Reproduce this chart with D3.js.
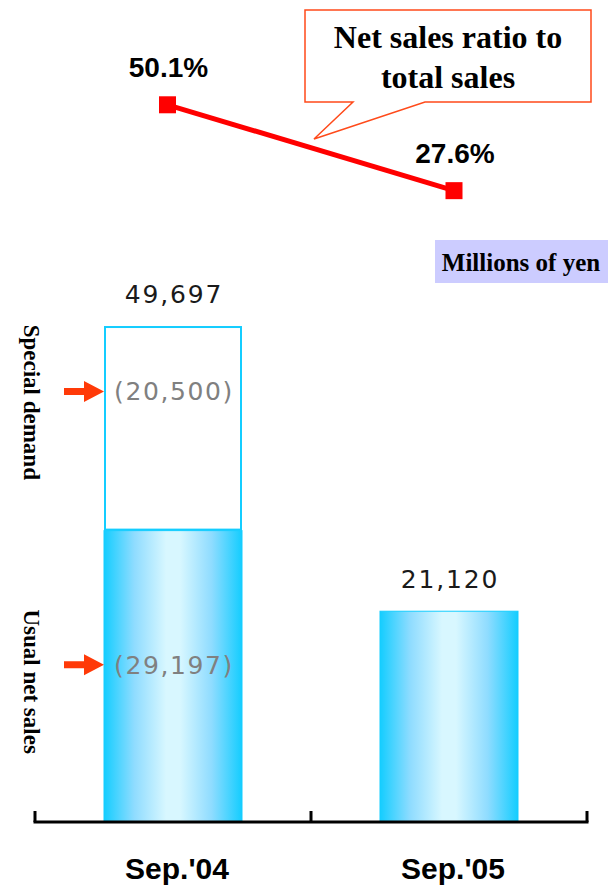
<!DOCTYPE html>
<html>
<head>
<meta charset="utf-8">
<script src="https://cdn.jsdelivr.net/npm/d3@7"></script>
<style>
  html, body { margin: 0; padding: 0; background: #fff; }
  svg { display: block; }
</style>
</head>
<body>
<svg id="chart" width="614" height="889"></svg>
<script>
// ---------- data ----------
const categories = ["Sep.'04", "Sep.'05"];
const usualNetSales = [29197, 21120];
const specialDemand = [20500, 0];
const totalLabels = ["49,697", "21,120"];
const segmentLabels = ["(29,197)", "(20,500)"];
const ratioValues = [50.1, 27.6];
const ratioLabels = ["50.1%", "27.6%"];
const calloutLines = ["Net sales ratio to", "total sales"];
const unitLabel = "Millions of yen";
const sideLabels = ["Special demand", "Usual net sales"];

// ---------- setup ----------
const svg = d3.select("#chart");
const defs = svg.append("defs");
const grad = defs.append("linearGradient").attr("id", "barGrad")
  .attr("x1", "0%").attr("x2", "100%").attr("y1", "0%").attr("y2", "0%");
[[0, "#14cdff"], [0.22, "#8fdcff"], [0.45, "#d8f7ff"], [0.55, "#d8f7ff"], [0.78, "#8fdcff"], [1, "#14cdff"]]
  .forEach(([o, c]) => grad.append("stop").attr("offset", o).attr("stop-color", c));

const x = d3.scaleBand().domain(categories).range([35, 587]).paddingInner(0.5).paddingOuter(0.25);
const y = d3.scaleLinear().domain([0, 50000]).range([822, 323]);
const lx = d3.scalePoint().domain(categories).range([167.5, 454]);
const ly = d3.scaleLinear().domain([0, 60]).range([296, 67]);

// ---------- bars ----------
const g = svg.append("g");
categories.forEach((c, i) => {
  const x0 = x(c), w = x.bandwidth();
  const yUsualTop = y(usualNetSales[i]);
  const yTotal = y(usualNetSales[i] + specialDemand[i]);
  g.append("rect").attr("x", x0).attr("y", yUsualTop).attr("width", w)
    .attr("height", y(0) - yUsualTop).attr("fill", "url(#barGrad)")
    .attr("stroke", "#14cdff").attr("stroke-width", 1);
  if (specialDemand[i] > 0) {
    g.append("rect").attr("x", x0 + 1).attr("y", yTotal + 1).attr("width", w - 2)
      .attr("height", yUsualTop - yTotal - 2).attr("fill", "#fff")
      .attr("stroke", "#14cdff").attr("stroke-width", 2);
  }
  g.append("text").attr("x", x0 + w / 2 + 1).attr("y", yTotal - 23)
    .attr("text-anchor", "middle")
    .style("font-family", "'DejaVu Sans', sans-serif").style("font-size", "25px")
    .style("letter-spacing", "1.8px").attr("fill", "#1a1a1a")
    .text(totalLabels[i]);
});

// segment labels + arrows for first bar
const arrowColor = "#ff3a08";
function arrowAt(cy) {
  const xr = x(categories[0]);
  const p = d3.path();
  p.moveTo(xr - 40, cy - 3.5); p.lineTo(xr - 20, cy - 3.5); p.lineTo(xr - 20, cy - 10.5);
  p.lineTo(xr, cy); p.lineTo(xr - 20, cy + 10.5); p.lineTo(xr - 20, cy + 3.5);
  p.lineTo(xr - 40, cy + 3.5); p.closePath();
  svg.append("path").attr("d", p.toString()).attr("fill", arrowColor);
}
{
  const c = categories[0];
  const yU = y(usualNetSales[0]), yT = y(usualNetSales[0] + specialDemand[0]);
  const specY = yT + (yU - yT) * 0.32;
  const usualY = yU + (y(0) - yU) * 0.46;
  [[specY, segmentLabels[1]], [usualY, segmentLabels[0]]].forEach(([cy, t]) => {
    arrowAt(cy);
    svg.append("text").attr("x", x(c) + x.bandwidth() / 2 + 1).attr("y", cy + 9)
      .attr("text-anchor", "middle")
      .style("font-family", "'DejaVu Sans', sans-serif").style("font-size", "25px")
      .style("letter-spacing", "1.6px").attr("fill", "#808080")
      .text(t);
  });
  const sideY = [(yT + yU) / 2 - 26, usualY + 17];
  sideLabels.forEach((t, i) => {
    svg.append("text").attr("transform", `translate(31,${sideY[i]}) rotate(90)`)
      .attr("text-anchor", "middle").attr("dominant-baseline", "central")
      .style("font-family", "'Liberation Serif', 'Times New Roman', serif")
      .style("font-size", "23px").style("font-weight", "bold").attr("fill", "#000")
      .text(t);
  });
}

// ---------- axis ----------
const ax = svg.append("g");
const bounds = [x.range()[0], x.range()[0] + x.step(), x.range()[1]];
ax.append("line").attr("x1", bounds[0]).attr("x2", bounds[2]).attr("y1", y(0)).attr("y2", y(0))
  .attr("stroke", "#000").attr("stroke-width", 3).attr("stroke-linecap", "square");
bounds.forEach(b => ax.append("line").attr("x1", b).attr("x2", b).attr("y1", y(0)).attr("y2", y(0) - 11)
  .attr("stroke", "#000").attr("stroke-width", 3));
categories.forEach(c => ax.append("text").attr("x", x(c) + x.bandwidth() / 2 + 4).attr("y", 879)
  .attr("text-anchor", "middle")
  .style("font-family", "'Liberation Sans', Arial, sans-serif").style("font-size", "30px")
  .style("font-weight", "bold").attr("fill", "#000").text(c));

// ---------- line ----------
const lineData = categories.map((c, i) => [lx(c), ly(ratioValues[i])]);
svg.append("path").attr("d", d3.line()(lineData)).attr("fill", "none")
  .attr("stroke", "#ff0000").attr("stroke-width", 5);
lineData.forEach(([px, py], i) => {
  svg.append("rect").attr("x", px - 8.5).attr("y", py - 8.5).attr("width", 17).attr("height", 17)
    .attr("fill", "#ff0000");
  svg.append("text").attr("x", px + 1).attr("y", py - 28).attr("text-anchor", "middle")
    .style("font-family", "'Liberation Sans', Arial, sans-serif").style("font-size", "28px")
    .style("font-weight", "bold").attr("fill", "#000").text(ratioLabels[i]);
});

// ---------- callout ----------
const cp = d3.path();
cp.moveTo(305, 10); cp.lineTo(591, 10); cp.lineTo(591, 102); cp.lineTo(425, 102);
cp.lineTo(314, 139); cp.lineTo(353, 102); cp.lineTo(305, 102); cp.closePath();
svg.append("path").attr("d", cp.toString()).attr("fill", "#fff")
  .attr("stroke", "#ff4a1a").attr("stroke-width", 1.5);
calloutLines.forEach((t, i) => svg.append("text").attr("x", 448).attr("y", 48 + i * 40)
  .attr("text-anchor", "middle")
  .style("font-family", "'Liberation Serif', 'Times New Roman', serif").style("font-size", "32px")
  .style("font-weight", "bold").attr("fill", "#000").text(t));

// ---------- unit box ----------
svg.append("rect").attr("x", 435).attr("y", 240).attr("width", 173).attr("height", 43).attr("fill", "#ccccff");
svg.append("text").attr("x", 521).attr("y", 271).attr("text-anchor", "middle")
  .style("font-family", "'Liberation Serif', 'Times New Roman', serif").style("font-size", "25px")
  .style("font-weight", "bold").attr("fill", "#000").text(unitLabel);
</script>
</body>
</html>
